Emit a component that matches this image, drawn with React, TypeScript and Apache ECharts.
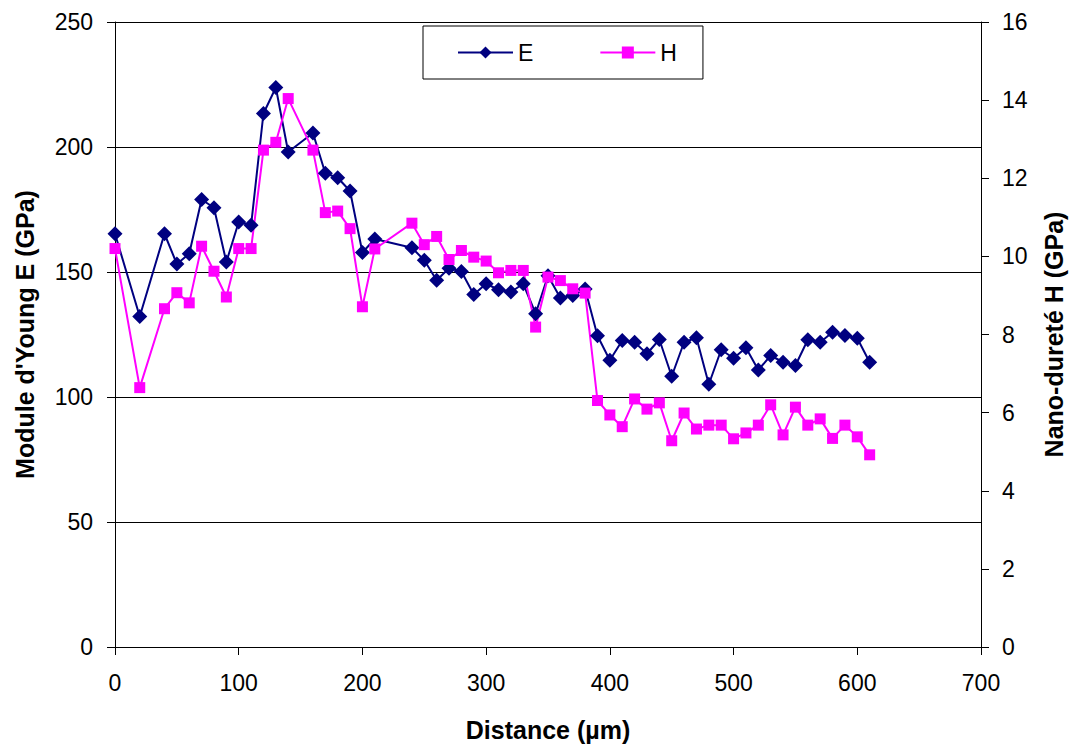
import React, { useEffect, useRef } from "react";
import * as echarts from "echarts";

const distance = [0, 20, 40, 50, 60, 70, 80, 90, 100, 110, 120, 130, 140, 160, 170, 180, 190, 200, 210,
  240, 250, 260, 270, 280, 290, 300, 310, 320, 330, 340, 350, 360, 370, 380, 390, 400, 410, 420, 430, 440,
  450, 460, 470, 480, 490, 500, 510, 520, 530, 540, 550, 560, 570, 580, 590, 600, 610];

const moduleE = [165.3, 132.2, 165.3, 153.2, 157.3, 179, 175.7, 154, 170, 168.7, 213.4, 223.8, 198, 205.6,
  189.5, 187.7, 182.4, 157.8, 163.2, 159.7, 154.7, 146.7, 151.5, 150.2, 141, 145.3, 142.9, 142, 145.3, 133.3,
  148.5, 139.6, 140.6, 143.2, 124.5, 114.7, 122.6, 121.9, 117.3, 123, 108.3, 121.9, 123.7, 105.1, 118.9,
  115.5, 119.7, 110.8, 116.6, 113.9, 112.6, 122.9, 121.9, 125.9, 124.6, 123.5, 113.9];

const dureteH = [10.2, 6.64, 8.66, 9.07, 8.81, 10.26, 9.62, 8.96, 10.2, 10.2, 12.72, 12.92, 14.04, 12.72,
  11.12, 11.16, 10.71, 8.71, 10.19, 10.85, 10.3, 10.51, 9.92, 10.15, 9.98, 9.88, 9.58, 9.64, 9.64, 8.19,
  9.47, 9.38, 9.17, 9.06, 6.31, 5.94, 5.64, 6.35, 6.09, 6.25, 5.28, 5.99, 5.58, 5.68, 5.68, 5.33, 5.48,
  5.68, 6.2, 5.43, 6.14, 5.68, 5.84, 5.34, 5.68, 5.38, 4.92];

const FONT = "Liberation Sans, Arial, sans-serif";

export default function App() {
  const ref = useRef<HTMLDivElement>(null);
  useEffect(() => {
    if (!ref.current) return;
    const chart = echarts.init(ref.current, null, { renderer: "svg" });
    const eData = distance.map((d, i) => [d, moduleE[i]]);
    const hData = distance.map((d, i) => [d, dureteH[i]]);
    const axisLine = { show: true, lineStyle: { color: "#000", width: 1 } };
    const axisTick = { show: true, inside: false, length: 8, lineStyle: { color: "#000", width: 1 } };
    const labelStyle = { color: "#000", fontFamily: FONT, fontSize: 23 };
    const nameStyle = { color: "#000", fontFamily: FONT, fontSize: 25, fontWeight: "bold" as const };
    chart.setOption({
      animation: false,
      backgroundColor: "#fff",
      textStyle: { fontFamily: FONT },
      grid: { left: 115, right: 96, top: 22, bottom: 104, containLabel: false },
      legend: {
        left: 423,
        top: 26,
        padding: [15, 26, 15, 34],
        borderColor: "#000",
        borderWidth: 1,
        itemWidth: 55,
        itemHeight: 15,
        itemGap: 66,
        textStyle: { color: "#000", fontFamily: FONT, fontSize: 23 },
        data: ["E", "H"],
      },
      xAxis: {
        type: "value",
        min: 0,
        max: 700,
        interval: 100,
        name: "Distance (µm)",
        nameLocation: "middle",
        nameGap: 70,
        nameTextStyle: nameStyle,
        axisLine,
        axisTick,
        axisLabel: { ...labelStyle, margin: 24 },
        splitLine: { show: false },
      },
      yAxis: [
        {
          type: "value",
          min: 0,
          max: 250,
          interval: 50,
          position: "left",
          name: "Module d'Young E (GPa)",
          nameLocation: "middle",
          nameGap: 78,
          nameTextStyle: nameStyle,
          axisLine,
          axisTick,
          axisLabel: { ...labelStyle, margin: 22 },
          splitLine: { show: true, lineStyle: { color: "#000", width: 1 } },
        },
        {
          type: "value",
          min: 0,
          max: 16,
          interval: 2,
          position: "right",
          name: "Nano-dureté H (GPa)",
          nameLocation: "middle",
          nameGap: 60,
          nameTextStyle: nameStyle,
          axisLine,
          axisTick,
          axisLabel: { ...labelStyle, margin: 21 },
          splitLine: { show: false },
        },
      ],
      series: [
        {
          name: "E",
          type: "line",
          yAxisIndex: 0,
          data: eData,
          symbol: "diamond",
          symbolSize: 15,
          lineStyle: { color: "#000080", width: 2 },
          itemStyle: { color: "#000080" },
        },
        {
          name: "H",
          type: "line",
          yAxisIndex: 1,
          data: hData,
          symbol: "rect",
          symbolSize: 11,
          lineStyle: { color: "#FF00FF", width: 2 },
          itemStyle: { color: "#FF00FF" },
        },
      ],
    });
    return () => chart.dispose();
  }, []);
  return (
    <div
      ref={ref}
      style={{ position: "absolute", left: 0, top: 0, width: 1077, height: 751, background: "#fff" }}
    />
  );
}
